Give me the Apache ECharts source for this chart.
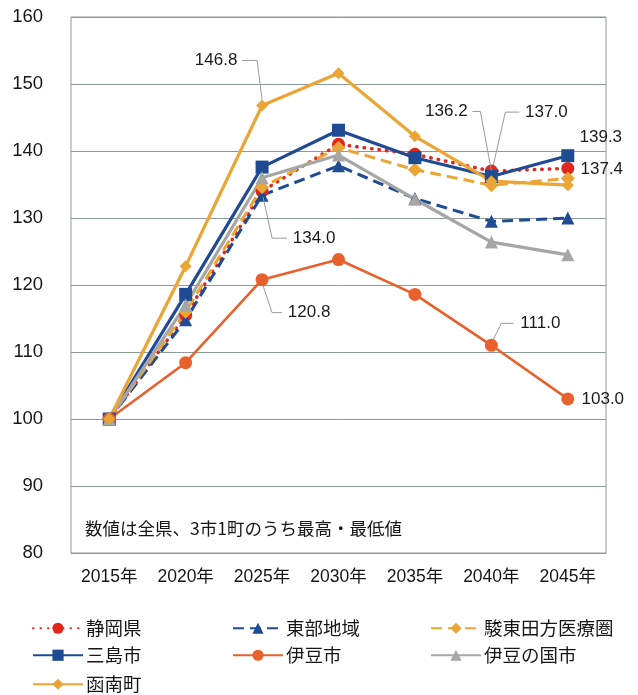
<!DOCTYPE html>
<html>
<head>
<meta charset="utf-8">
<script src="https://cdn.jsdelivr.net/npm/echarts@6/dist/echarts.min.js"></script>
<style>
  html, body { margin: 0; padding: 0; background: #ffffff; }
  #chart { width: 638px; height: 695px; }
</style>
</head>
<body>
<div id="chart"></div>
<script>
// Index of population (2015 = 100)
const years = ['2015年', '2020年', '2025年', '2030年', '2035年', '2040年', '2045年'];
const yTicks = [80, 90, 100, 110, 120, 130, 140, 150, 160];

const shizuokaPref = [100, 115.5, 134.0, 141.0, 139.5, 137.0, 137.4];
const tobuRegion   = [100, 114.8, 133.4, 137.8, 132.9, 129.5, 130.0];
const suntoTagata  = [100, 116.0, 134.6, 140.5, 137.2, 134.9, 135.9];
const mishima      = [100, 118.6, 137.6, 143.1, 139.0, 136.2, 139.3];
const izu          = [100, 108.4, 120.8, 123.8, 118.6, 111.0, 103.0];
const izunokuni    = [100, 117.0, 136.0, 139.4, 132.8, 126.4, 124.5];
const kannami      = [100, 122.8, 146.8, 151.6, 142.2, 135.5, 134.9];

const noteText = '数値は全県、3市1町のうち最高・最低値';

const FONT = "'Liberation Sans', 'Noto Sans CJK JP', sans-serif";
const CJK = "'Noto Sans CJK JP', sans-serif";

// Value labels: [series name, data index, dx, dy, leader style, elbow x offset]
// leader: 'L' = label on the left, 'R' = label on the right, null = no leader
const valueLabels = [
  ['函南町', 2, -46, -45, 'L', -5],
  ['静岡県', 2, 52, 47, 'R', 10],
  ['伊豆市', 2, 47, 33, 'R', 10],
  ['三島市', 5, -45, -65, 'L', -11],
  ['静岡県', 5, 55, -59, 'R', 14],
  ['伊豆市', 5, 49, -22, 'R', 10],
  ['三島市', 6, 33, -18, null, 0],
  ['静岡県', 6, 34, 1, null, 0],
  ['伊豆市', 6, 35, 0, null, 0]
];

const seriesDefs = [
  { name: '静岡県', data: shizuokaPref, color: '#e2261d', symbol: 'circle', size: 13,
    line: { type: [0.5, 7], cap: 'round', width: 3.5 } },
  { name: '東部地域', data: tobuRegion, color: '#1f4b95', symbol: 'triangle', size: 13,
    line: { type: [11, 6], width: 3 } },
  { name: '駿東田方医療圏', data: suntoTagata, color: '#eaa535', symbol: 'diamond', size: 14,
    line: { type: [11, 6], width: 3 } },
  { name: '三島市', data: mishima, color: '#1f4b95', symbol: 'rect', size: 13,
    line: { type: 'solid', width: 3.2 } },
  { name: '伊豆市', data: izu, color: '#e8602c', symbol: 'circle', size: 13,
    line: { type: 'solid', width: 2.6 } },
  { name: '伊豆の国市', data: izunokuni, color: '#a6a6a6', symbol: 'triangle', size: 13,
    line: { type: 'solid', width: 3.2 } },
  { name: '函南町', data: kannami, color: '#eaa535', symbol: 'diamond', size: 12,
    line: { type: 'solid', width: 3.2 } }
];

function findLabel(name, idx) {
  return valueLabels.find(l => l[0] === name && l[1] === idx);
}

const series = seriesDefs.map(def => ({
  name: def.name,
  type: 'line',
  symbol: def.symbol,
  symbolSize: def.size,
  color: def.color,
  itemStyle: { color: def.color },
  lineStyle: Object.assign({ color: def.color }, def.line),
  data: def.data.map((v, i) => {
    const lab = findLabel(def.name, i);
    return {
      value: v,
      label: lab ? {
        show: true, position: 'inside',
        formatter: (p) => p.value.toFixed(1),
        fontFamily: FONT, fontSize: 17, color: '#1a1a1a'
      } : { show: false }
    };
  }),
  labelLayout: (params) => {
    const lab = findLabel(def.name, params.dataIndex);
    if (!lab) return {};
    const cx = params.rect.x + params.rect.width / 2;
    const cy = params.rect.y + params.rect.height / 2;
    return { x: cx + lab[2], y: cy + lab[3], align: 'center', verticalAlign: 'middle' };
  }
}));

// Legend layout: three columns, three rows
const legendCols = [32, 232, 430];
const legendRows = [630, 657, 686];
const legends = seriesDefs.map((def, i) => ({
  data: [def.name],
  left: legendCols[i % 3],
  top: legendRows[Math.floor(i / 3)] - 11,
  itemWidth: 50,
  itemHeight: 14,
  itemGap: 0,
  padding: 0,
  textStyle: { fontFamily: CJK, fontSize: 18.5, color: '#161616', padding: [0, 0, 0, -2] }
}));

const noteGraphic = {
  id: 'note',
  type: 'text',
  left: 85,
  top: 520,
  style: { text: noteText, font: "17.5px 'Noto Sans CJK JP', sans-serif", fill: '#161616' }
};

const chart = echarts.init(document.getElementById('chart'), null, { renderer: 'canvas' });
chart.setOption({
  backgroundColor: '#ffffff',
  animation: false,
  grid: {
    left: 71, right: 32, top: 17, bottom: 142,
    show: true, borderColor: '#8c9b99', borderWidth: 1, backgroundColor: 'transparent'
  },
  xAxis: {
    type: 'category',
    data: years,
    boundaryGap: true,
    axisTick: { show: false },
    axisLine: { show: true, lineStyle: { color: '#8c9b99' } },
    axisLabel: { fontFamily: FONT, fontSize: 17.5, color: '#161616', margin: 15 }
  },
  yAxis: {
    type: 'value',
    min: yTicks[0],
    max: yTicks[yTicks.length - 1],
    interval: yTicks[1] - yTicks[0],
    axisTick: { show: false },
    axisLine: { show: false },
    splitLine: { show: true, lineStyle: { color: '#8c9b99', width: 1 } },
    axisLabel: { fontFamily: FONT, fontSize: 18.5, color: '#161616', margin: 28 }
  },
  legend: legends,
  graphic: [noteGraphic],
  series: series
});

// Elbow leader lines from each labelled point to its value label
const labelHalfWidth = 22;
const leaders = valueLabels.filter(l => l[4]).map((lab, k) => {
  const def = seriesDefs.find(d => d.name === lab[0]);
  const [cx, cy] = chart.convertToPixel({ seriesName: lab[0] }, [lab[1], def.data[lab[1]]]);
  const lx = cx + lab[2];
  const ly = cy + lab[3];
  const ex = cx + lab[5];
  let pts;
  if (lab[4] === 'L') {
    pts = [[lx + labelHalfWidth + 4, ly], [ex, ly], [cx, cy - 6]];
  } else if (lab[3] > 0) {
    pts = [[cx + 1, cy + 6], [ex, ly], [lx - labelHalfWidth - 5, ly]];
  } else {
    pts = [[cx + 2, cy - 6], [ex, ly], [lx - labelHalfWidth - 5, ly]];
  }
  return {
    id: 'leader' + k,
    type: 'polyline',
    z: 10,
    shape: { points: pts },
    style: { stroke: '#9a9a9a', lineWidth: 1, fill: null }
  };
});
chart.setOption({ graphic: [noteGraphic].concat(leaders) });
</script>
</body>
</html>
